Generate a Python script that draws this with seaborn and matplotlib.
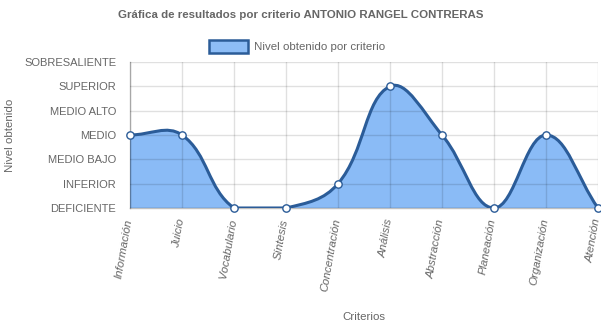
import numpy as np
import pandas as pd
import matplotlib
matplotlib.use("Agg")
import matplotlib.pyplot as plt
import matplotlib.transforms as mtransforms
import seaborn as sns
from matplotlib.path import Path
from matplotlib.patches import PathPatch, Rectangle

# ---- data ----
criterios = ["Información", "Juicio", "Vocabulario", "Síntesis", "Concentración",
             "Análisis", "Abstracción", "Planeación", "Organización", "Atención"]
niveles = [3, 3, 0, 0, 1, 5, 3, 0, 3, 0]
etiquetas_nivel = ["DEFICIENTE", "INFERIOR", "MEDIO BAJO", "MEDIO",
                   "MEDIO ALTO", "SUPERIOR", "SOBRESALIENTE"]
titulo = "Gráfica de resultados por criterio ANTONIO RANGEL CONTRERAS"
serie = "Nivel obtenido por criterio"

df = pd.DataFrame({"criterio": criterios, "nivel": niveles})
df["pos"] = np.arange(len(df))

sns.set_style("white")
plt.rcParams["font.family"] = ["Liberation Sans", "DejaVu Sans"]

W, H = 601, 328
fig = plt.figure(figsize=(W / 100, H / 100), dpi=100)
L, R, T, B = 130, 598, 62, 208
ax = fig.add_axes([L / W, 1 - B / H, (R - L) / W, (B - T) / H])

xmax = len(criterios) - 1
ymax = len(etiquetas_nivel) - 1
ax.set_xlim(0, xmax)
ax.set_ylim(0, ymax)
sx = (R - L) / xmax
sy = (B - T) / ymax

line_col = "#2b5c98"
fill_col = "#8abbf6"
tick_col = "#dcdcdc"
txt_col = "#666666"
fs = 8.25


def chartjs_spline(xs, ys, t=0.4):
    px = np.asarray(xs, float) * sx
    py = np.asarray(ys, float) * sy
    n = len(px)
    cprev, cnext = [], []
    for i in range(n):
        p = i - 1 if i > 0 else i
        q = i + 1 if i < n - 1 else i
        d01 = np.hypot(px[i] - px[p], py[i] - py[p])
        d12 = np.hypot(px[q] - px[i], py[q] - py[i])
        tot = d01 + d12
        s01 = d01 / tot if tot > 0 else 0
        s12 = d12 / tot if tot > 0 else 0
        fa, fb = t * s01, t * s12
        a = [px[i] - fa * (px[q] - px[p]), py[i] - fa * (py[q] - py[p])]
        b = [px[i] + fb * (px[q] - px[p]), py[i] + fb * (py[q] - py[p])]
        for c in (a, b):
            c[0] = min(max(c[0], 0), xmax * sx)
            c[1] = min(max(c[1], 0), ymax * sy)
        cprev.append(a)
        cnext.append(b)
    verts = [(px[0], py[0])]
    codes = [Path.MOVETO]
    for i in range(n - 1):
        verts += [tuple(cnext[i]), tuple(cprev[i + 1]), (px[i + 1], py[i + 1])]
        codes += [Path.CURVE4] * 3
    verts = [(x / sx, y / sy) for x, y in verts]
    return verts, codes


verts, codes = chartjs_spline(df["pos"], df["nivel"])

# fill to zero
fverts = verts + [(xmax, 0), (0, 0), (0, 0)]
fcodes = codes + [Path.LINETO, Path.LINETO, Path.CLOSEPOLY]
ax.add_patch(PathPatch(Path(fverts, fcodes), facecolor=fill_col,
                       edgecolor="none", zorder=1))
ax.add_patch(PathPatch(Path(verts, codes), facecolor="none", edgecolor=line_col,
                       linewidth=2.2, zorder=3))

sns.scatterplot(data=df, x="pos", y="nivel", ax=ax, s=28, color="white",
                edgecolor=line_col, linewidth=1.0, zorder=5, clip_on=False,
                legend=False)

# grid & axes (drawn over the fill, translucent)
ax.set_axisbelow(False)
ax.grid(True, color="#000000", alpha=0.12, linewidth=1, zorder=2)
for s in ["top", "right"]:
    ax.spines[s].set_visible(False)
for s in ["left", "bottom"]:
    ax.spines[s].set_color("#000000")
    ax.spines[s].set_alpha(0.25)
    ax.spines[s].set_linewidth(1)
    ax.spines[s].set_zorder(2)

ax.set_yticks(range(len(etiquetas_nivel)))
ax.set_yticklabels(etiquetas_nivel, fontsize=8.0, color=txt_col)
ax.set_xticks(df["pos"])
ax.set_xticklabels([""] * len(criterios))
ax.tick_params(axis="y", length=9, width=1, color=tick_col, pad=1)
ax.tick_params(axis="x", length=7, width=1, color=tick_col, pad=3)

# rotated category labels
lab_tr = ax.get_xaxis_transform() + mtransforms.ScaledTranslation(
    -1 / 100, -11 / 100, fig.dpi_scale_trans)
for xpos, name in zip(df["pos"], df["criterio"]):
    ax.text(xpos, 0, name, transform=lab_tr, rotation=80, ha="right",
            va="center", rotation_mode="anchor", fontsize=fs, color=txt_col,
            fontstyle="italic", clip_on=False)

ax.set_xlabel("")
ax.set_ylabel("")
fig.text(10 / W, 1 - 135 / H, "Nivel obtenido", rotation=90, ha="center",
         va="center", fontsize=fs, color=txt_col)
fig.text(364 / W, 1 - 317 / H, "Criterios", ha="center", va="center",
         fontsize=fs, color=txt_col)

fig.text(300.5 / W, 1 - 15 / H, titulo, ha="center", va="center",
         fontsize=fs, fontweight="bold", color=txt_col)

# legend
fig.patches.append(Rectangle((209 / W, 1 - 53 / H), 39 / W, 13 / H,
                             transform=fig.transFigure, facecolor="#8dbdf6",
                             edgecolor=line_col, linewidth=1.8))
fig.text(254 / W, 1 - 47 / H, serie, ha="left", va="center",
         fontsize=fs, color=txt_col)

fig.savefig("out.png", dpi=100)
